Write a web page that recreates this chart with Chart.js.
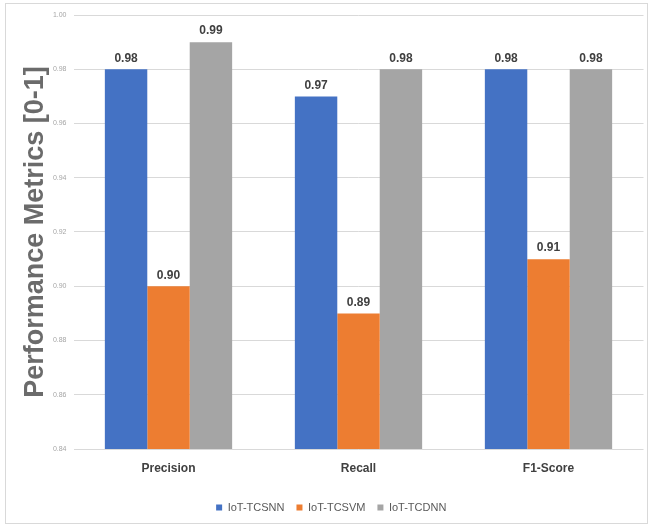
<!DOCTYPE html>
<html>
<head>
<meta charset="utf-8">
<script src="https://cdn.jsdelivr.net/npm/chart.js@4.4.0/dist/chart.umd.min.js"></script>
<style>
  html, body { margin: 0; padding: 0; background: #fff; }
  #wrap { width: 650px; height: 528px; position: relative; }
</style>
</head>
<body>
<div id="wrap"><canvas id="c" width="650" height="528"></canvas></div>
<script>
const categories = ["Precision", "Recall", "F1-Score"];
const seriesNames = ["IoT-TCSNN", "IoT-TCSVM", "IoT-TCDNN"];
const tcsnn = [0.98, 0.97, 0.98];
const tcsvm = [0.90, 0.89, 0.91];
const tcdnn = [0.99, 0.98, 0.98];
const yTicks = [0.84, 0.86, 0.88, 0.90, 0.92, 0.94, 0.96, 0.98, 1.00];
const colors = ["#4472C4", "#ED7D31", "#A5A5A5"];

const FONT = "'Liberation Sans Narrow', 'Liberation Sans', 'DejaVu Sans Condensed', sans-serif";

const borderPlugin = {
  id: 'frame',
  beforeDraw(chart) {
    const ctx = chart.ctx;
    ctx.save();
    ctx.fillStyle = '#fff';
    ctx.fillRect(0, 0, chart.width, chart.height);
    ctx.strokeStyle = '#d9d9d9';
    ctx.lineWidth = 1;
    ctx.strokeRect(5.5, 3.5, 642, 520);
    ctx.restore();
  }
};

const labelPlugin = {
  id: 'valLabels',
  afterDatasetsDraw(chart) {
    const ctx = chart.ctx;
    ctx.save();
    ctx.font = "bold 12px " + FONT;
    ctx.fillStyle = '#404040';
    ctx.textAlign = 'center';
    ctx.textBaseline = 'bottom';
    chart.data.datasets.forEach((ds, i) => {
      chart.getDatasetMeta(i).data.forEach((bar, j) => {
        ctx.fillText(ds.data[j].toFixed(2), bar.x, bar.y - 5);
      });
    });
    ctx.restore();
  }
};

new Chart(document.getElementById('c'), {
  type: 'bar',
  data: {
    labels: categories,
    datasets: [
      { label: seriesNames[0], data: tcsnn, backgroundColor: colors[0] },
      { label: seriesNames[1], data: tcsvm, backgroundColor: colors[1] },
      { label: seriesNames[2], data: tcdnn, backgroundColor: colors[2] }
    ]
  },
  options: {
    responsive: false,
    animation: false,
    devicePixelRatio: 1,
    layout: { padding: { left: 19, right: 6.5, top: 15, bottom: 5 } },
    datasets: { bar: { barPercentage: 1.0, categoryPercentage: 0.67 } },
    plugins: {
      legend: {
        position: 'bottom',
        labels: {
          boxWidth: 6, boxHeight: 6, padding: 12,
          color: '#595959',
          font: { family: FONT, size: 11 }
        }
      },
      tooltip: { enabled: false }
    },
    scales: {
      x: {
        grid: { display: false },
        border: { display: false },
        ticks: { color: '#404040', font: { family: FONT, size: 12, weight: 'bold' }, padding: 4 },
        afterFit(s) { s.height = 41; }
      },
      y: {
        min: 0.84, max: 1.0,
        afterBuildTicks(s) { s.ticks = yTicks.map(v => ({ value: v })); },
        grid: { color: '#d9d9d9', drawTicks: false },
        border: { display: false },
        ticks: {
          color: '#a6a6a6', font: { family: FONT, size: 7 }, padding: 7,
          callback: v => Number(v).toFixed(2)
        },
        title: {
          display: true, text: 'Performance Metrics [0-1]',
          color: '#6b6b6b', font: { family: "'Liberation Sans', sans-serif", size: 27, weight: 'bold' },
          padding: { top: 0, bottom: 0 }
        },
        afterFit(s) { s.width = 54.5; }
      }
    }
  },
  plugins: [borderPlugin, labelPlugin]
});
</script>
</body>
</html>
